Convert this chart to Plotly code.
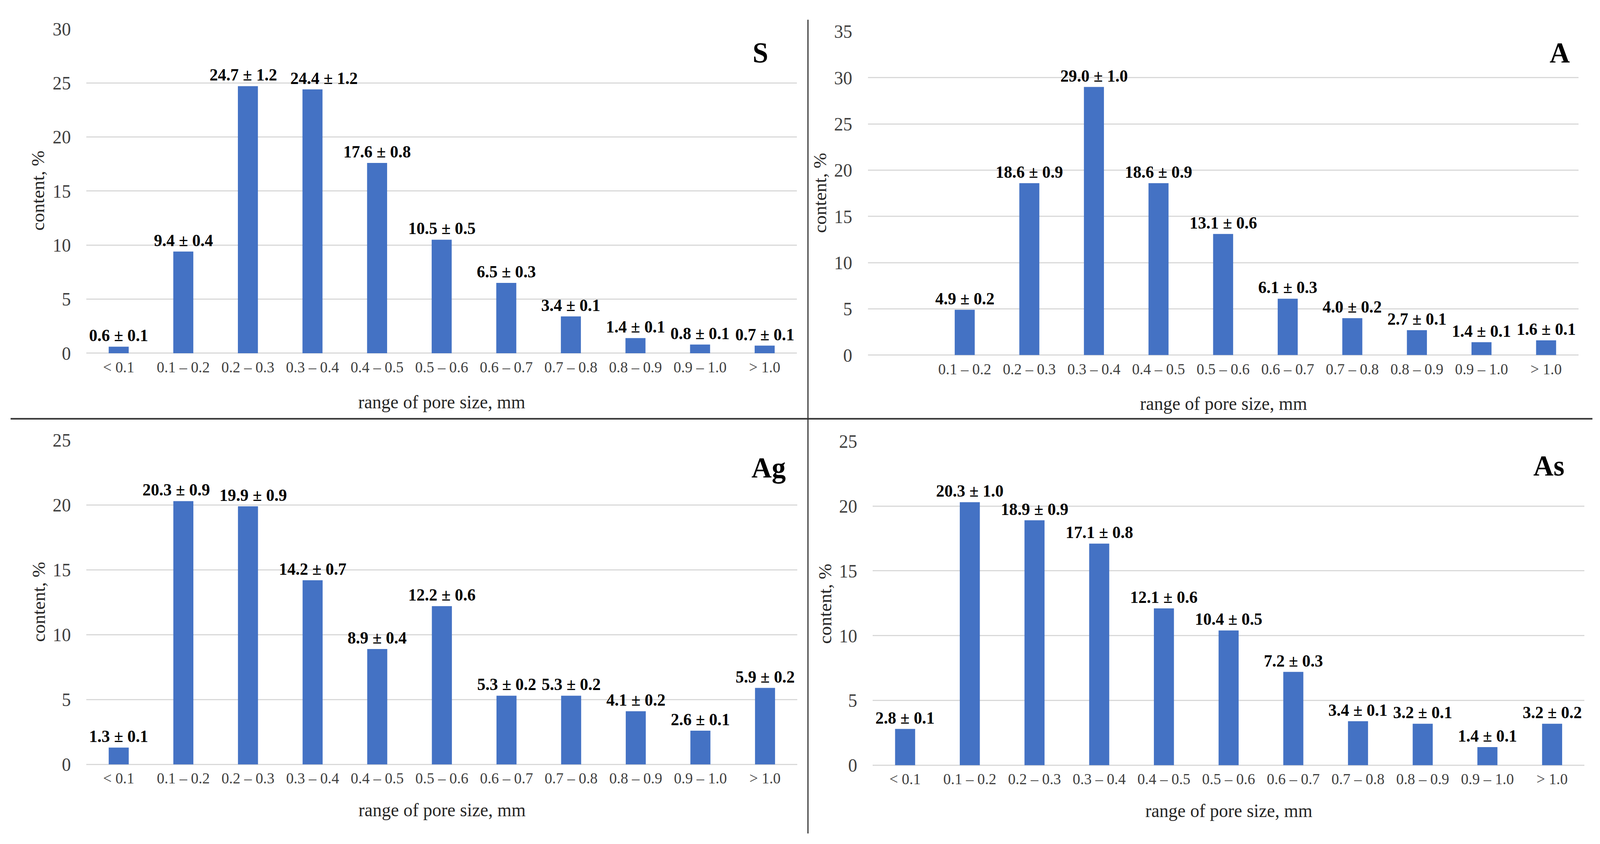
import plotly.graph_objects as go

W, H = 4222, 2160

categories = ["< 0.1", "0.1 – 0.2", "0.2 – 0.3", "0.3 – 0.4", "0.4 – 0.5", "0.5 – 0.6",
              "0.6 – 0.7", "0.7 – 0.8", "0.8 – 0.9", "0.9 – 1.0", "> 1.0"]

s_values = [0.6, 9.4, 24.7, 24.4, 17.6, 10.5, 6.5, 3.4, 1.4, 0.8, 0.7]
s_errors = [0.1, 0.4, 1.2, 1.2, 0.8, 0.5, 0.3, 0.1, 0.1, 0.1, 0.1]

a_values = [None, 4.9, 18.6, 29.0, 18.6, 13.1, 6.1, 4.0, 2.7, 1.4, 1.6]
a_errors = [None, 0.2, 0.9, 1.0, 0.9, 0.6, 0.3, 0.2, 0.1, 0.1, 0.1]

ag_values = [1.3, 20.3, 19.9, 14.2, 8.9, 12.2, 5.3, 5.3, 4.1, 2.6, 5.9]
ag_errors = [0.1, 0.9, 0.9, 0.7, 0.4, 0.6, 0.2, 0.2, 0.2, 0.1, 0.2]

as_values = [2.8, 20.3, 18.9, 17.1, 12.1, 10.4, 7.2, 3.4, 3.2, 1.4, 3.2]
as_errors = [0.1, 1.0, 0.9, 0.8, 0.6, 0.5, 0.3, 0.1, 0.1, 0.1, 0.2]

panel_names = ["S", "A", "Ag", "As"]
y_max = [30, 35, 25, 25]

x_title = "range of pore size, mm"
y_title = "content, %"

FONT = "Liberation Serif"
BAR = "#4472C4"
GRID = "#d9d9d9"
TICK = "#404040"

# pixel layout of each plot area: (left, right, top, bottom)
boxes = [
    (228, 2103, 49, 900),
    (2290, 4165, 56, 905),
    (228, 2104, 1128, 1979),
    (2303, 4181, 1131, 1981),
]
letter_pos = [(2006, 112), (4115, 112), (2028, 1200), (4087, 1195)]
ytitle_pos = [(100, 474), (2163, 480), (102, 1553), (2177, 1558)]
xtitle_pos = [(1165, 1028), (3228, 1032), (1166, 2098), (3242, 2100)]
# horizontal nudges (px) of crowded value labels, as in the original figure
label_nudge = [{2: -12, 3: 30}, {}, {1: -19, 2: 14}, {}]


def px(x):
    return x / W


def py(y):
    return 1 - y / H


def label(v, e):
    return f"<b>{v:.1f} ± {e:.1f}</b>"


series = [(s_values, s_errors), (a_values, a_errors), (ag_values, ag_errors), (as_values, as_errors)]

fig = go.Figure()
annotations = []
for i, ((vals, errs), box) in enumerate(zip(series, boxes)):
    n = "" if i == 0 else str(i + 1)
    fig.add_trace(go.Bar(
        x=categories, y=vals,
        marker=dict(color=BAR, line=dict(width=0)),
        xaxis="x" + n, yaxis="y" + n,
        showlegend=False,
        hoverinfo="skip",
    ))
    for j, (c, v, e) in enumerate(zip(categories, vals, errs)):
        if v is None:
            continue
        annotations.append(dict(
            x=c, y=v, xref="x" + n, yref="y" + n,
            text=label(v, e), showarrow=False,
            xanchor="center", yanchor="bottom",
            xshift=label_nudge[i].get(j, 0), yshift=2,
            font=dict(family=FONT, size=44, color="black"),
        ))
    l, r, t, b = box
    tickcats = categories[1:] if i == 1 else categories
    fig.update_layout(**{
        "xaxis" + n: dict(
            domain=[px(l), px(r)], anchor="y" + n, type="category",
            categoryorder="array", categoryarray=categories,
            tickmode="array", tickvals=tickcats, ticktext=tickcats,
            showgrid=False, zeroline=False, showline=False, ticks="",
            tickfont=dict(family=FONT, size=40, color=TICK),
            ticklabelstandoff=8, fixedrange=True,
        ),
        "yaxis" + n: dict(
            domain=[py(b), py(t)], anchor="x" + n,
            range=[0, y_max[i]], dtick=5, tick0=0,
            showgrid=True, gridcolor=GRID, gridwidth=3,
            zeroline=True, zerolinecolor=GRID, zerolinewidth=3,
            showline=False, ticks="",
            tickfont=dict(family=FONT, size=48, color=TICK),
            ticklabelstandoff=40, fixedrange=True,
        ),
    })
    lx, ly = letter_pos[i]
    annotations.append(dict(x=px(lx), y=py(ly), xref="paper", yref="paper",
                            text=f"<b>{panel_names[i]}</b>", showarrow=False,
                            font=dict(family=FONT, size=74, color="black"),
                            xanchor="center", yanchor="middle"))
    tx, ty = ytitle_pos[i]
    annotations.append(dict(x=px(tx), y=py(ty), xref="paper", yref="paper",
                            text=y_title, showarrow=False, textangle=-90,
                            font=dict(family=FONT, size=48, color="#262626"),
                            xanchor="center", yanchor="middle"))
    tx, ty = xtitle_pos[i]
    annotations.append(dict(x=px(tx), y=py(ty), xref="paper", yref="paper",
                            text=x_title, showarrow=False,
                            font=dict(family=FONT, size=48, color="#262626"),
                            xanchor="center", yanchor="middle"))

shapes = [
    dict(type="line", xref="paper", yref="paper", x0=px(28), x1=px(4202), y0=py(1072), y1=py(1072),
         line=dict(color="#333333", width=4)),
    dict(type="line", xref="paper", yref="paper", x0=px(2132), x1=px(2132), y0=py(25), y1=py(2160),
         line=dict(color="#333333", width=3)),
]

fig.update_layout(
    width=W, height=H, autosize=False,
    margin=dict(l=0, r=0, t=0, b=0),
    paper_bgcolor="white", plot_bgcolor="white",
    bargap=0.69,
    annotations=annotations, shapes=shapes,
    font=dict(family=FONT),
)

# scale the fixed-size figure so that it exactly fills the browser viewport
post = (
    "document.documentElement.style.margin='0';"
    "document.documentElement.style.overflow='hidden';"
    "document.body.style.margin='0';document.body.style.padding='0';"
    "document.body.style.overflow='hidden';"
    "var d=document.getElementById('{plot_id}');"
    "function fit(){var sx=window.innerWidth/%d, sy=window.innerHeight/%d;"
    "d.style.transformOrigin='0 0';d.style.transform='scale('+sx+','+sy+')';}"
    "fit();window.addEventListener('resize',fit);"
) % (W, H)

fig.write_html("out.html", post_script=post, config={"displayModeBar": False})
